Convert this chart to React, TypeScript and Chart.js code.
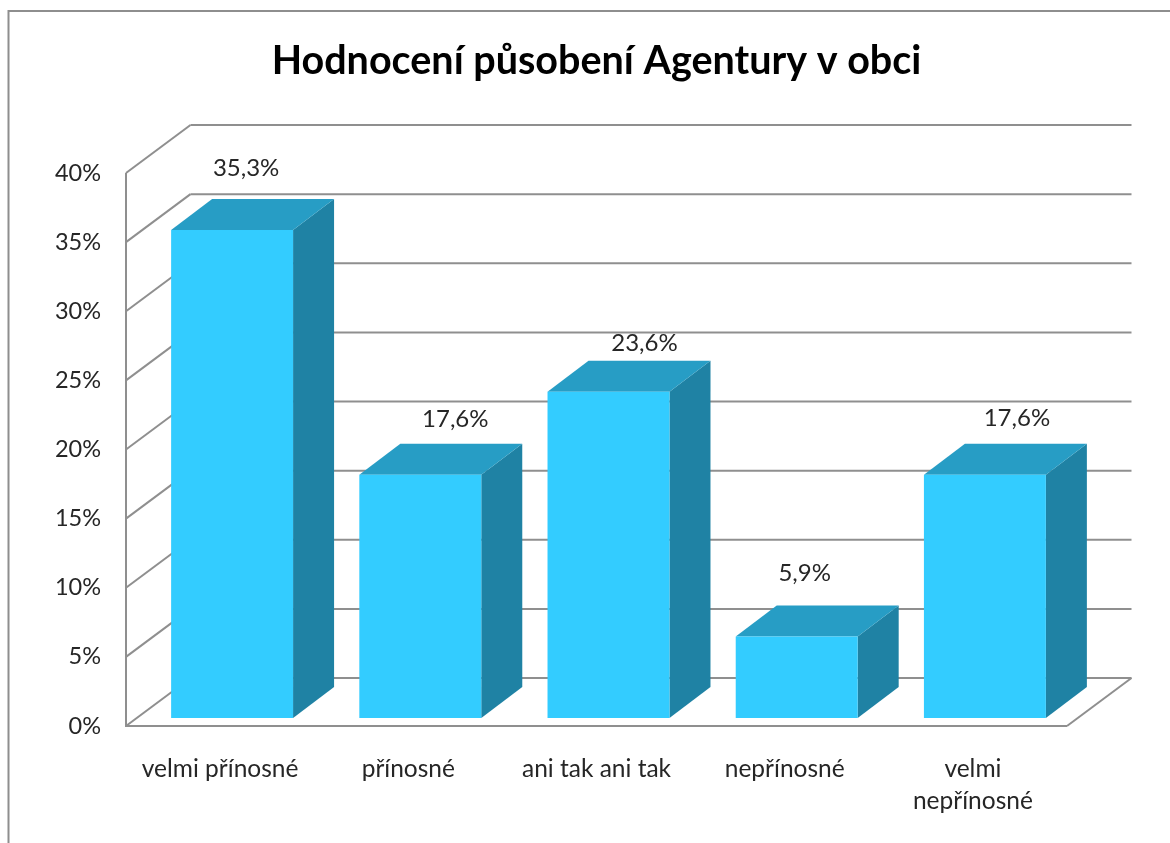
import React, { useEffect, useRef } from "react";
import { Chart, registerables } from "chart.js";

Chart.register(...registerables);

const categories = [
  "velmi přínosné",
  "přínosné",
  "ani tak ani tak",
  "nepřínosné",
  ["velmi", "nepřínosné"],
];
const seriesValues = [35.3, 17.6, 23.6, 5.9, 17.6];
const chartTitle = "Hodnocení působení Agentury v obci";

const FONT = "Lato, sans-serif";
const FRONT = "#33CCFF";
const TOP = "#279DC5";
const SIDE = "#1F82A4";
const GRID = "#8F8F8F";
const TEXT = "#262626";

// 3D projection offsets
const WALL_DX = 64.5;
const WALL_DY = -48;
const BAR_SHIFT_X = 12;
const BAR_SHIFT_Y = -8;
const BAR_DX = 41;
const BAR_DY = -31;
const labelNudges = [
  [14, -31],
  [35, -24],
  [36, -17],
  [8, -32],
  [32, -25],
];

const line = (ctx: CanvasRenderingContext2D, x1: number, y1: number, x2: number, y2: number) => {
  ctx.beginPath();
  ctx.moveTo(x1, y1);
  ctx.lineTo(x2, y2);
  ctx.stroke();
};

const poly = (ctx: CanvasRenderingContext2D, pts: number[][], color: string) => {
  ctx.fillStyle = color;
  ctx.beginPath();
  pts.forEach(([x, y], i) => (i ? ctx.lineTo(x, y) : ctx.moveTo(x, y)));
  ctx.closePath();
  ctx.fill();
};

const scene = {
  id: "scene",
  beforeDraw(chart: any) {
    const { ctx, width, height } = chart;
    ctx.save();
    ctx.fillStyle = "#fff";
    ctx.fillRect(0, 0, width, height);
    ctx.strokeStyle = "#8E8E8E";
    ctx.lineWidth = 2;
    ctx.beginPath();
    ctx.moveTo(8.5, height);
    ctx.lineTo(8.5, 11);
    ctx.lineTo(width, 11);
    ctx.stroke();
    ctx.restore();
  },
  beforeDatasetsDraw(chart: any) {
    const { ctx, chartArea, scales } = chart;
    const { left, right, bottom, top } = chartArea;
    ctx.save();
    ctx.strokeStyle = GRID;
    ctx.lineWidth = 2;
    scales.y.ticks.forEach((t: any) => {
      const y = scales.y.getPixelForValue(t.value);
      line(ctx, left, y, left + WALL_DX, y + WALL_DY);
      line(ctx, left + WALL_DX, y + WALL_DY, right + WALL_DX, y + WALL_DY);
    });
    line(ctx, left, top, left, bottom);
    line(ctx, left - 1, bottom, right, bottom);
    line(ctx, right, bottom, right + WALL_DX, bottom + WALL_DY);
    ctx.restore();
  },
  beforeDatasetDraw(chart: any) {
    const { ctx } = chart;
    ctx.save();
    ctx.translate(BAR_SHIFT_X, BAR_SHIFT_Y);
    chart.getDatasetMeta(0).data.forEach((bar: any) => {
      const l = bar.x - bar.width / 2;
      const r = bar.x + bar.width / 2;
      poly(ctx, [[r, bar.y], [r + BAR_DX, bar.y + BAR_DY], [r + BAR_DX, bar.base + BAR_DY], [r, bar.base]], SIDE);
      poly(ctx, [[l, bar.y], [l + BAR_DX, bar.y + BAR_DY], [r + BAR_DX, bar.y + BAR_DY], [r, bar.y]], TOP);
    });
  },
  afterDatasetDraw(chart: any) {
    chart.ctx.restore();
  },
  afterDatasetsDraw(chart: any) {
    const { ctx } = chart;
    ctx.save();
    ctx.fillStyle = TEXT;
    ctx.font = `24px ${FONT}`;
    ctx.textAlign = "center";
    ctx.textBaseline = "middle";
    chart.getDatasetMeta(0).data.forEach((bar: any, i: number) => {
      const text = seriesValues[i].toFixed(1).replace(".", ",") + "%";
      const topY = bar.y + BAR_SHIFT_Y + BAR_DY;
      ctx.fillText(text, bar.x + BAR_SHIFT_X + labelNudges[i][0], topY + labelNudges[i][1]);
    });
    ctx.restore();
  },
};

export default function App() {
  const ref = useRef<HTMLCanvasElement>(null);
  useEffect(() => {
    const chart = new Chart(ref.current!, {
      type: "bar",
      data: {
        labels: categories as any,
        datasets: [
          {
            data: seriesValues,
            backgroundColor: FRONT,
            borderWidth: 0,
            barPercentage: 0.648,
            categoryPercentage: 1,
            clip: false as any,
          },
        ],
      },
      options: {
        responsive: false,
        animation: false,
        layout: { padding: { left: 0, right: 103, top: 0, bottom: 0 } },
        plugins: {
          legend: { display: false },
          tooltip: { enabled: false },
          title: {
            display: true,
            text: chartTitle,
            fullSize: false,
            color: "#000",
            font: { family: FONT, size: 39.5, weight: "bold", lineHeight: 1.2 },
            padding: { top: 38, bottom: 87.6 },
          },
        },
        scales: {
          x: {
            border: { display: false },
            grid: { display: false, drawTicks: false },
            ticks: {
              color: TEXT,
              padding: 27,
              maxRotation: 0,
              autoSkip: false,
              font: { family: FONT, size: 24.5, lineHeight: 1.32 },
            },
            afterFit: (s: any) => {
              s.height = 117;
            },
          },
          y: {
            min: 0,
            max: 40,
            border: { display: false },
            grid: { display: false, drawTicks: false },
            ticks: {
              stepSize: 5,
              color: TEXT,
              padding: 25,
              font: { family: FONT, size: 23.5 },
              callback: (v: any) => `${v}%`,
            },
            afterFit: (s: any) => {
              s.width = 126;
            },
          },
        },
      },
      plugins: [scene],
    } as any);
    return () => chart.destroy();
  }, []);
  return (
    <canvas
      ref={ref}
      width={1170}
      height={843}
      style={{ position: "absolute", left: 0, top: 0, display: "block", filter: "blur(0.4px)" }}
    />
  );
}
